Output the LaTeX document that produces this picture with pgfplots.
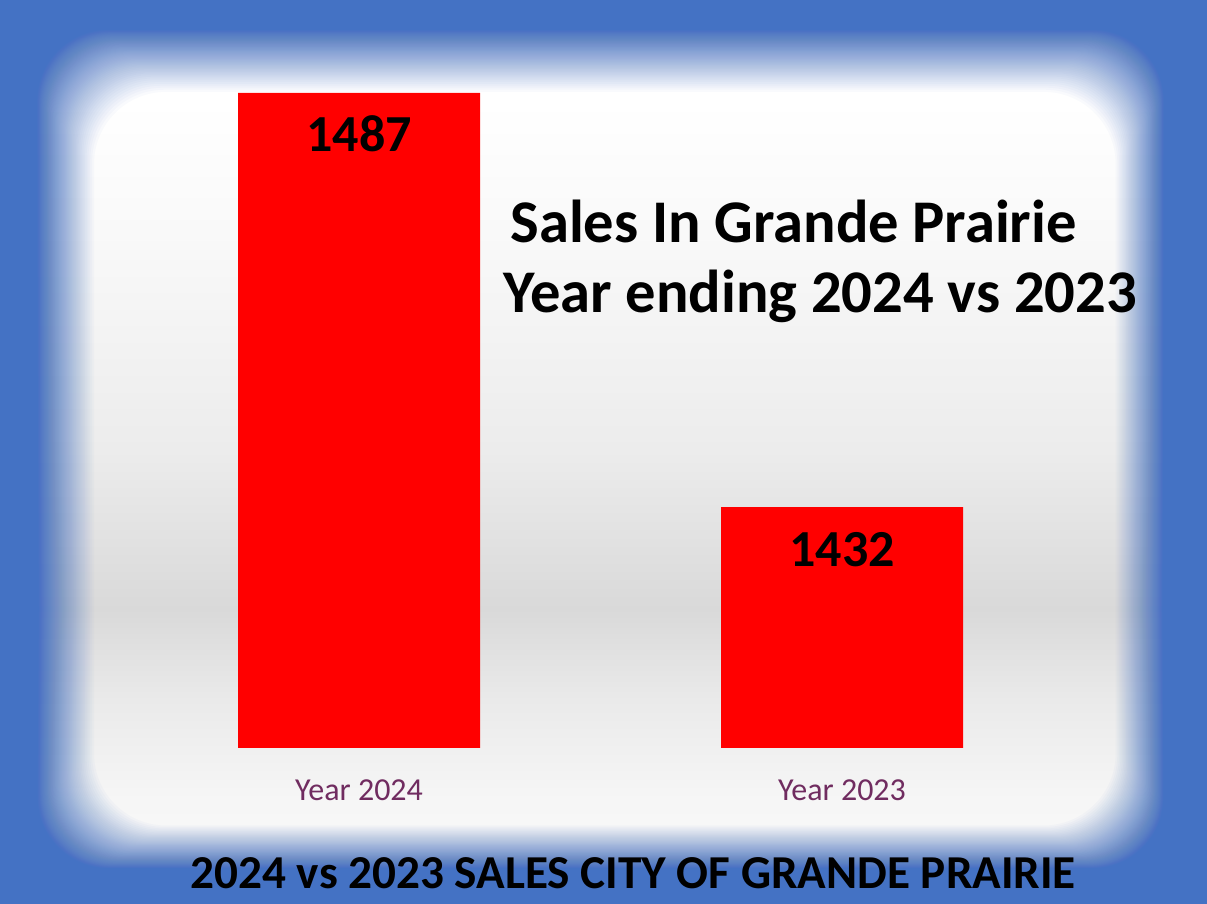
\documentclass[border=0pt]{standalone}
\usepackage{pgfplots}
\pgfplotsset{compat=1.18}
\usepackage{fontspec}
\setmainfont{Carlito}
\definecolor{frameblue}{RGB}{68,114,196}
\definecolor{ticklab}{RGB}{112,44,96}
\definecolor{bgA}{RGB}{250,250,250}
\definecolor{bgB}{RGB}{246,246,246}
\definecolor{bgC}{RGB}{234,234,234}
\definecolor{bgD}{RGB}{217,217,217}
\definecolor{bgE}{RGB}{236,236,236}
\definecolor{bgF}{RGB}{248,248,248}
\pgfdeclareverticalshading{bgshade}{100bp}{color(0bp)=(bgA); color(25bp)=(bgA); color(30.75bp)=(bgB); color(36.3bp)=(bgC); color(41.3bp)=(bgD); color(50.1bp)=(bgE); color(61.1bp)=(bgF); color(69.4bp)=(white); color(75bp)=(white); color(100bp)=(white)}
\begin{document}
\begin{tikzpicture}[x=0.5pt,y=0.5pt]
\useasboundingbox (0,0) rectangle (1207,904);
\shade[shading=bgshade] (0,0) rectangle (1207,904);
\foreach \m in {1,...,160}{
  \pgfmathsetmacro\T{0.97^\m}
  \pgfmathsetmacro\L{30+66*\T}
  \pgfmathsetmacro\Tp{904-(22+72*\T)}
  \pgfmathsetmacro\R{1207-(37+56*\T)}
  \pgfmathsetmacro\B{30+50*\T}
  \fill[frameblue, fill opacity=0.03, even odd rule] (0,0) rectangle (1207,904) {[rounded corners=36pt] (\L,\B) rectangle (\R,\Tp)};
}
\begin{axis}[
  at={(58.75pt,78pt)}, anchor=south west,
  scale only axis, width=483pt, height=327.5pt,
  xmin=-0.5, xmax=1.5, ymin=1400, ymax=1487,
  axis line style={draw=none}, ytick=\empty, xtick={0,1},
  xticklabels={Year 2024,Year 2023},
  major tick length=0pt,
  xticklabel style={anchor=base, yshift=-26.5pt, font=\fontsize{16}{16}\selectfont, text=ticklab},
  /pgf/number format/assume math mode=true,
  /pgf/number format/1000 sep={},
  ybar, bar width=121pt, bar shift=0pt,
  nodes near coords,
  nodes near coords style={anchor=base, yshift=-29.5pt, font=\bfseries\fontsize{26}{26}\selectfont, text=black},
]
\addplot[fill=red, draw=none] coordinates {(0,1487) (1,1432)};
\end{axis}
\node[anchor=base west, inner sep=0pt, font=\bfseries\fontsize{30.3}{30}\selectfont] at (510,661) {Sales In Grande Prairie};
\node[anchor=base west, inner sep=0pt, font=\bfseries\fontsize{30.3}{30}\selectfont] at (503,591) {Year ending 2024 vs 2023};
\node[anchor=base west, inner sep=0pt, font=\bfseries\fontsize{23.6}{23.6}\selectfont] at (190,15) {2024 vs 2023 SALES CITY OF GRANDE PRAIRIE};
\end{tikzpicture}
\end{document}
